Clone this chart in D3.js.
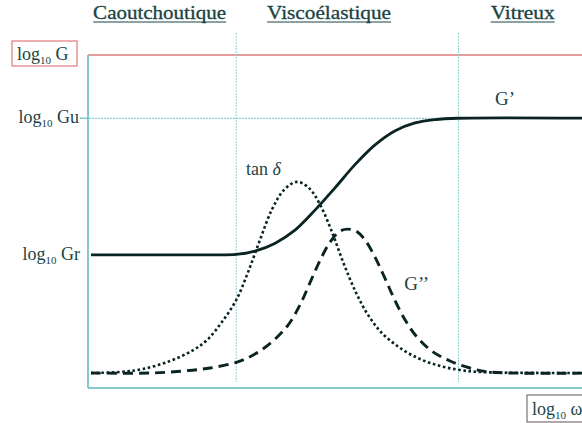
<!DOCTYPE html>
<html>
<head>
<meta charset="utf-8">
<script src="https://cdn.jsdelivr.net/npm/d3@7"></script>
<style>
  html, body { margin: 0; padding: 0; background: #fff; }
  svg { display: block; }
</style>
</head>
<body>
<svg id="chart" width="582" height="423" font-family="'Liberation Serif', 'DejaVu Serif', 'Noto Serif', Tinos, 'Times New Roman', serif"></svg>
<script>
// Frequency axis (log10 ω, arbitrary units) and the three regimes
const regionNames = ["Caoutchoutique", "Viscoélastique", "Vitreux"];
const regionBounds = [3.0, 7.5];           // transitions between the regimes
const regionLabelX = [1.45, 4.88, 8.8];    // label centres along log10 ω
const regionLabelW = [133, 124, 64];       // title widths, px

// Modulus levels (log10 units on the vertical axis)
const levelGr = 4.0;
const levelGu = 8.1;

// Storage modulus G'
const gPrimeX = [0.06, 2.27, 3.0, 3.38, 3.79, 4.19, 4.6, 5.0, 5.4, 5.81, 6.21, 6.62, 7.02, 7.49, 10.2];
const gPrimeY = [4.0, 4.0, 4.01, 4.11, 4.35, 4.74, 5.35, 6.01, 6.7, 7.3, 7.72, 7.96, 8.06, 8.1, 8.1];

// Loss factor tan δ
const tanDX = [0.06, 0.65, 1.11, 1.66, 2.13, 2.41, 2.71, 3.0, 3.24, 3.48, 3.72, 3.97, 4.23, 4.47, 4.7, 4.94, 5.18, 5.43, 5.67, 5.95, 6.32, 6.72, 7.13, 7.53, 7.94, 10.2];
const tanDY = [0.45, 0.48, 0.57, 0.81, 1.14, 1.44, 1.98, 2.64, 3.48, 4.44, 5.35, 5.95, 6.19, 6.01, 5.5, 4.68, 3.72, 2.85, 2.19, 1.65, 1.2, 0.87, 0.66, 0.54, 0.48, 0.45];

// Loss modulus G''
const gSecX = [0.06, 1.26, 1.92, 2.47, 3.02, 3.38, 3.72, 4.05, 4.29, 4.49, 4.7, 4.9, 5.1, 5.26, 5.43, 5.61, 5.81, 6.01, 6.21, 6.42, 6.66, 6.96, 7.33, 7.73, 8.14, 10.2];
const gSecY = [0.45, 0.45, 0.51, 0.6, 0.78, 1.02, 1.38, 1.89, 2.49, 3.15, 3.84, 4.38, 4.71, 4.77, 4.71, 4.44, 3.93, 3.3, 2.64, 2.04, 1.53, 1.11, 0.81, 0.6, 0.48, 0.45];

const labelGPrime = "G’";
const labelGSec = "G’’";
const labelTan = "tan ";
const labelDelta = "δ";

const svg = d3.select("#chart");
const x = d3.scaleLinear().domain([0, 10]).range([88, 582]);
const y = d3.scaleLinear().domain([0, 10]).range([388, 55]);

const teal = "#5db8b8";
const red = "#e07a7a";
const ink = "#0a2424";
const textInk = "#1a4444";

// Frame: top edge in red, left and bottom edges in teal
svg.append("line").attr("x1", x(0)).attr("x2", 582).attr("y1", y(10)).attr("y2", y(10))
  .attr("stroke", red).attr("stroke-width", 1.3);
svg.append("line").attr("x1", x(0)).attr("x2", x(0)).attr("y1", y(10)).attr("y2", y(0))
  .attr("stroke", teal).attr("stroke-width", 1.5);
svg.append("line").attr("x1", x(0)).attr("x2", 582).attr("y1", y(0)).attr("y2", y(0))
  .attr("stroke", teal).attr("stroke-width", 1.5);

// Regime boundaries
svg.selectAll("line.bound").data(regionBounds).join("line")
  .attr("class", "bound")
  .attr("x1", d => x(d)).attr("x2", d => x(d))
  .attr("y1", 33).attr("y2", 382)
  .attr("stroke", "#8fcfcf").attr("stroke-width", 1)
  .attr("stroke-dasharray", "2,1");

// Reference level for Gu
svg.append("line").attr("x1", x(0) - 8).attr("x2", x(regionBounds[1]))
  .attr("y1", y(levelGu)).attr("y2", y(levelGu))
  .attr("stroke", "#6cc0c0").attr("stroke-width", 1).attr("stroke-dasharray", "2,1");
svg.append("line").attr("x1", x(regionBounds[1])).attr("x2", 582)
  .attr("y1", y(levelGu)).attr("y2", y(levelGu))
  .attr("stroke", red).attr("stroke-width", 1);

// Regime titles with underline
regionNames.forEach((name, i) => {
  const cx = x(regionLabelX[i]);
  const w = regionLabelW[i];
  svg.append("text")
    .attr("x", cx).attr("y", 19)
    .attr("text-anchor", "middle")
    .attr("font-size", 18).attr("fill", textInk)
    .attr("stroke", textInk).attr("stroke-width", 0.3)
    .attr("textLength", w).attr("lengthAdjust", "spacingAndGlyphs")
    .text(name);
  svg.append("line")
    .attr("x1", cx - w / 2).attr("x2", cx + w / 2)
    .attr("y1", 22).attr("y2", 22)
    .attr("stroke", textInk).attr("stroke-width", 1.2);
});

// "log10 X" label helper
function logLabel(parent, px, py, sym, anchor) {
  const t = parent.append("text").attr("x", px).attr("y", py)
    .attr("font-size", 18).attr("text-anchor", anchor).attr("fill", textInk);
  t.append("tspan").text("log");
  t.append("tspan").attr("font-size", 11).attr("dy", 4).text("10");
  t.append("tspan").attr("dy", -4).text(" " + sym);
  return t;
}

// Axis title boxes
svg.append("rect").attr("x", 12).attr("y", 41).attr("width", 65).attr("height", 25)
  .attr("fill", "none").attr("stroke", red).attr("stroke-width", 1.2);
logLabel(svg, 17, 60, "G", "start");

svg.append("rect").attr("x", 527).attr("y", 395).attr("width", 70).attr("height", 27)
  .attr("fill", "none").attr("stroke", "#7a7070").attr("stroke-width", 1.2);
logLabel(svg, 532, 415, "ω", "start");

// Level labels and ticks
logLabel(svg, 79, y(levelGu) + 5, "Gu", "end");
svg.append("line").attr("x1", 80).attr("x2", x(0)).attr("y1", y(levelGu)).attr("y2", y(levelGu))
  .attr("stroke", "#6cc0c0").attr("stroke-width", 1);
logLabel(svg, 80, y(levelGr) + 5, "Gr", "end");

// Curves
const line = d3.line().x(d => x(d[0])).y(d => y(d[1])).curve(d3.curveCatmullRom.alpha(0.5));

svg.append("path")
  .datum(d3.zip(gSecX, gSecY))
  .attr("d", line)
  .attr("fill", "none").attr("stroke", ink).attr("stroke-width", 2.9)
  .attr("stroke-dasharray", "10,6");

svg.append("path")
  .datum(d3.zip(tanDX, tanDY))
  .attr("d", line)
  .attr("fill", "none").attr("stroke", ink).attr("stroke-width", 2.6)
  .attr("stroke-dasharray", "2.6,2.6");

svg.append("path")
  .datum(d3.zip(gPrimeX, gPrimeY))
  .attr("d", line)
  .attr("fill", "none").attr("stroke", ink).attr("stroke-width", 2.8);

// Curve labels
svg.append("text").attr("x", x(8.24)).attr("y", 105).attr("font-size", 19).attr("fill", textInk).text(labelGPrime);
svg.append("text").attr("x", x(6.4)).attr("y", 290).attr("font-size", 19).attr("fill", textInk).text(labelGSec);
const tl = svg.append("text").attr("x", x(3.2)).attr("y", 175).attr("font-size", 18).attr("fill", textInk);
tl.append("tspan").text(labelTan);
tl.append("tspan").attr("font-style", "italic").text(labelDelta);
</script>
</body>
</html>
